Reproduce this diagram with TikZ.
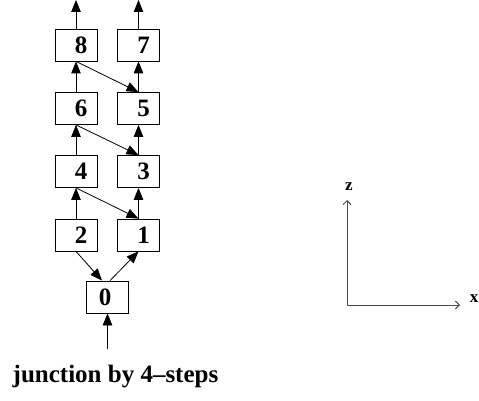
\documentclass[tikz,border=0pt]{standalone}
\usepackage{fontspec}
\setmainfont{Liberation Serif}
\usetikzlibrary{arrows.meta}
\begin{document}
\begin{tikzpicture}[x=1pt,y=-1pt,
  box/.style={draw,line width=0.8pt,minimum width=42pt,minimum height=32pt,inner sep=0pt,font=\fontsize{25}{25}\selectfont\bfseries},
  flow/.style={line width=0.8pt,-{Triangle[length=12pt,width=9.5pt]}},
  axis/.style={line width=0.9pt,draw=black!70,-{Straight Barb[length=4pt,width=8pt]}},
  lab/.style={font=\fontsize{17}{17}\selectfont\bfseries,inner sep=0pt}]
\useasboundingbox (0,0) rectangle (479,401);
\node[box] (n8) at (76,45) {\hspace*{10pt}8};
\node[box] (n7) at (138.5,45) {\hspace*{10pt}7};
\node[box] (n6) at (76,108.5) {\hspace*{10pt}6};
\node[box] (n5) at (138.5,108.5) {\hspace*{10pt}5};
\node[box] (n4) at (76,171.5) {\hspace*{10pt}4};
\node[box] (n3) at (138.5,171.5) {\hspace*{10pt}3};
\node[box] (n2) at (76,235) {\hspace*{10pt}2};
\node[box] (n1) at (138.5,235) {\hspace*{10pt}1};
\node[box] (n0) at (107.5,297) {0\hspace*{5pt}};
\coordinate (t8) at (76,0);
\coordinate (t7) at (138.5,0);
\coordinate (b0) at (107.5,349);
\draw[flow] (n8.north) -- (t8);
\draw[flow] (n7.north) -- (t7);
\draw[flow] (n6.north) -- (n8.south);
\draw[flow] (n5.north) -- (n7.south);
\draw[flow] (n4.north) -- (n6.south);
\draw[flow] (n3.north) -- (n5.south);
\draw[flow] (n2.north) -- (n4.south);
\draw[flow] (n1.north) -- (n3.south);
\draw[flow] (n8.south) -- (n5.north);
\draw[flow] (n6.south) -- (n3.north);
\draw[flow] (n4.south) -- (n1.north);
\draw[flow] (n2.south) -- ([xshift=-5.5pt]n0.north);
\draw[flow] ([xshift=2.5pt]n0.north) -- (n1.south);
\draw[flow] (b0) -- (n0.south);
\node[font=\fontsize{25}{25}\selectfont\bfseries,inner sep=0pt,anchor=base west] (cap) at (12.5,382) {junction by 4–steps};
\coordinate (o) at (347,305);
\coordinate (zend) at (347,200);
\coordinate (xend) at (460,305);
\draw[axis] (o) -- (zend);
\draw[axis] (o) -- (xend);
\node[lab] (zl) at (349,186.5) {z};
\node[lab] (xl) at (474,298.5) {x};
\end{tikzpicture}
\end{document}
